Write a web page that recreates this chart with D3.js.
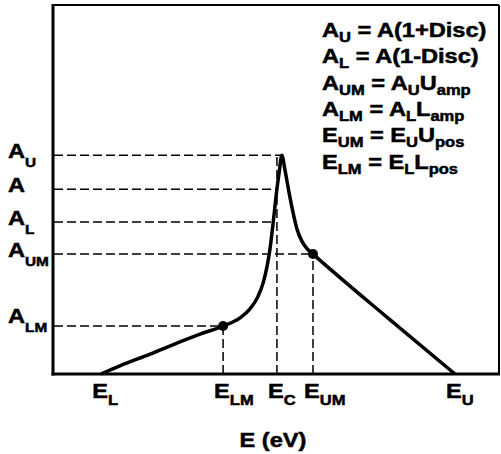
<!DOCTYPE html>
<html>
<head>
<meta charset="utf-8">
<script src="https://d3js.org/d3.v7.min.js"></script>
<style>
  body { margin: 0; background: #fff; }
  text { font-family: "Liberation Sans", Arial, sans-serif; font-weight: bold; fill: #000;
         stroke: #000; stroke-width: 0.5px; }
</style>
</head>
<body>
<div id="chart"></div>
<script>
// curve (arbitrary units, 0-100 on both axes)
var curveE = [10.6, 14.8, 21.6, 28.3, 32.8, 38.0, 41.8, 44.0, 45.8, 47.0, 47.9, 48.5, 49.2, 49.9, 50.6, 51.2,
              51.9, 52.8, 53.7, 54.6, 55.7, 56.9, 58.2, 75.0, 90.1];
var curveA = [0, 2.2, 5.4, 8.7, 10.8, 13.0, 15.2, 17.6, 20.9, 24.7, 29.3, 33.6, 40.4, 48.2, 54.7, 59.3,
              55.3, 49.3, 43.9, 39.3, 36.0, 33.9, 32.5, 15.2, 0];

// tick labels on the energy axis
var eNames = ["L", "LM", "C", "UM", "U"];
var eValues = [10.6, 38.0, 50.1, 58.2, 90.1];

// tick labels on the amplitude axis
var aNames = ["U", "", "L", "UM", "LM"];
var aValues = [59.3, 50.1, 41.2, 32.5, 13.0];

// the two marked points (E_LM, A_LM) and (E_UM, A_UM)
var markE = [38.0, 58.2];
var markA = [13.0, 32.5];

// legend text, [text, subscript?]
var legendLines = [
  [["A", 0], ["U", 1], [" = A(1+Disc)", 0]],
  [["A", 0], ["L", 1], [" = A(1-Disc)", 0]],
  [["A", 0], ["UM", 1], [" = A", 0], ["U", 1], ["U", 0], ["amp", 1]],
  [["A", 0], ["LM", 1], [" = A", 0], ["L", 1], ["L", 0], ["amp", 1]],
  [["E", 0], ["UM", 1], [" = E", 0], ["U", 1], ["U", 0], ["pos", 1]],
  [["E", 0], ["LM", 1], [" = E", 0], ["L", 1], ["L", 0], ["pos", 1]]
];

var width = 501, height = 454;
var stretch = 1.18;   // the lettering in the figure is a bit wide

var x = d3.scaleLinear().domain([0, 100]).range([54, 499]);
var y = d3.scaleLinear().domain([0, 100]).range([374, 5]);

var svg = d3.select("#chart").append("svg")
    .attr("width", width)
    .attr("height", height);

var points = curveE.map(function(e, i) { return [e, curveA[i]]; });

// where a level first meets the rising side of the curve
function leftCross(level) {
  for (var i = 1; i < points.length; i++) {
    var p0 = points[i - 1], p1 = points[i];
    if (p0[1] <= level && p1[1] >= level) {
      return p0[0] + (level - p0[1]) / (p1[1] - p0[1]) * (p1[0] - p0[0]);
    }
  }
  return 0;
}
var peakE = curveE[curveA.indexOf(d3.max(curveA))];

// horizontal dashed guides: to the peak, to the curve, or to the marked points
var hEnds = aValues.map(function(a, i) {
  if (i === 0) return peakE;
  if (i === 3) return markE[1];
  if (i === 4) return markE[0];
  return leftCross(a);
});

svg.selectAll("line.hguide")
    .data(aValues)
    .enter().append("line")
    .attr("class", "hguide")
    .attr("x1", x(0))
    .attr("x2", function(d, i) { return x(hEnds[i]); })
    .attr("y1", d => y(d))
    .attr("y2", d => y(d))
    .style("stroke", "#000")
    .style("stroke-width", 1.5)
    .style("stroke-dasharray", "9,4");

// vertical dashed guides
var vTops = [null, markA[0], aValues[0], markA[1], null];
svg.selectAll("line.vguide")
    .data(eValues.filter(function(d, i) { return vTops[i] !== null; }))
    .enter().append("line")
    .attr("class", "vguide")
    .attr("x1", d => x(d))
    .attr("x2", d => x(d))
    .attr("y1", y(0))
    .attr("y2", function(d) { return y(vTops[eValues.indexOf(d)]); })
    .style("stroke", "#000")
    .style("stroke-width", 1.5)
    .style("stroke-dasharray", "9,4");

// frame
svg.append("line").attr("x1", x(0)).attr("x2", x(100)).attr("y1", y(100)).attr("y2", y(100))
    .style("stroke", "#000").style("stroke-width", 2);
svg.append("line").attr("x1", x(100)).attr("x2", x(100)).attr("y1", y(100)).attr("y2", y(0))
    .style("stroke", "#000").style("stroke-width", 2);
svg.append("line").attr("x1", x(0) - 1).attr("x2", x(0) - 1).attr("y1", y(100) - 1).attr("y2", y(0) + 1.5)
    .style("stroke", "#000").style("stroke-width", 3);
svg.append("line").attr("x1", x(0) - 2.5).attr("x2", x(100) + 1).attr("y1", y(0)).attr("y2", y(0))
    .style("stroke", "#000").style("stroke-width", 3);

// the curve
var line = d3.line()
    .x(d => x(d[0]))
    .y(d => y(d[1]))
    .curve(d3.curveMonotoneX);

svg.append("path")
    .datum(points)
    .attr("d", line)
    .style("fill", "none")
    .style("stroke", "#000")
    .style("stroke-width", 3.5)
    .style("stroke-linejoin", "round");

svg.selectAll("circle.mark")
    .data(markE)
    .enter().append("circle")
    .attr("class", "mark")
    .attr("cx", d => x(d))
    .attr("cy", function(d, i) { return y(markA[i]); })
    .attr("r", 5)
    .style("fill", "#000");

// writes main text + subscripts into a stretched text element
function richText(px, py, parts, mainSize, subSize, subShift) {
  var t = svg.append("text")
      .attr("transform", "translate(" + px + "," + py + ") scale(" + stretch + ",1)");
  parts.forEach(function(p) {
    t.append("tspan")
      .attr("y", p[1] ? subShift : 0)
      .style("font-size", (p[1] ? subSize : mainSize) + "px")
      .text(p[0]);
  });
  return t;
}

// amplitude labels
aValues.forEach(function(a, i) {
  var nudge = i === 4 ? -3 : 3;
  var parts = [["A", 0]];
  if (aNames[i]) parts.push([aNames[i], 1]);
  richText(8, y(a) + nudge, parts, 20, 13, 9);
});

// energy labels
eValues.forEach(function(e, i) {
  richText(x(e) - 9, 398, [["E", 0], [eNames[i], 1]], 20, 14, 7);
});

// x axis title
svg.append("text")
    .attr("transform", "translate(273,447) scale(" + stretch + ",1)")
    .attr("text-anchor", "middle")
    .style("font-size", "20px")
    .text("E (eV)");

// formulas in the top right
legendLines.forEach(function(parts, i) {
  richText(322, 37 + i * 26.3, parts, 20, 14, 5);
});
</script>
</body>
</html>
